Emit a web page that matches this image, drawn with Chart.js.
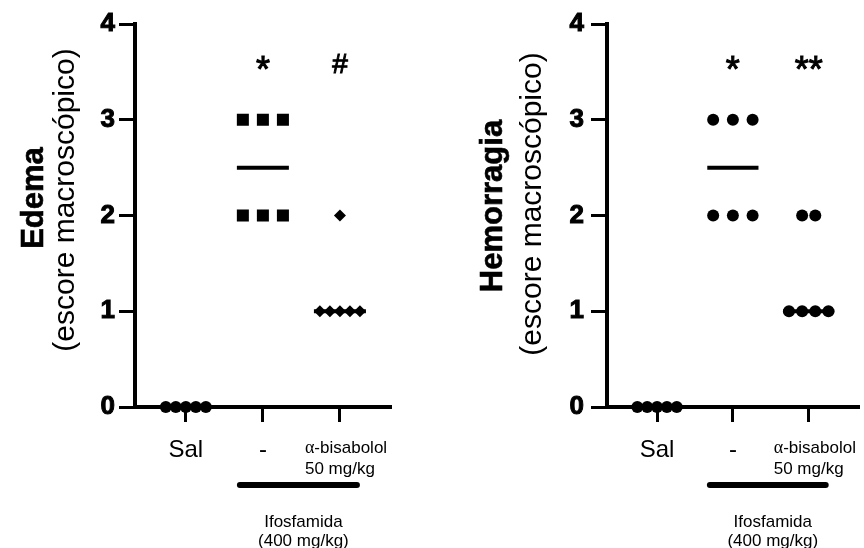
<!DOCTYPE html>
<html><head><meta charset="utf-8">
<script src="https://cdn.jsdelivr.net/npm/chart.js@4"></script>
<style>
html,body{margin:0;padding:0;background:#fff;width:864px;height:548px;overflow:hidden}
canvas{position:absolute;top:0}
#c1{left:0}#c2{left:432px}
</style></head>
<body>
<canvas id="c1" width="432" height="548"></canvas>
<canvas id="c2" width="432" height="548"></canvas>
<script>
// ---------- data ----------
const categories = ['Sal', '-', ['α-bisabolol', '50 mg/kg']];
const yTicks = [0, 1, 2, 3, 4];
const treatment = ['Ifosfamida', '(400 mg/kg)'];
const treatedGroups = [1, 2];

const edemaSal = [0, 0, 0, 0, 0];
const edemaIfo = [3, 3, 3, 2, 2, 2];
const edemaBisa = [2, 1, 1, 1, 1, 1];
const edemaSig = ['', '*', '#'];

const hemoSal = [0, 0, 0, 0, 0];
const hemoIfo = [3, 3, 3, 2, 2, 2];
const hemoBisa = [2, 2, 1, 1, 1, 1];
const hemoSig = ['', '*', '**'];

// ---------- style constants ----------
const X_MIN = -0.66, X_MAX = 2.65;
const SWARM = 0.52;          // spread of a row (category units)
const MEDIAN_HALF = 0.3375;  // half width of median line (category units)
const SIG_Y = 3.59;
const SANS = 'Liberation Sans';
const SERIF = 'Liberation Serif';

function swarm(values, gi) {
  const counts = {};
  values.forEach(v => counts[v] = (counts[v] || 0) + 1);
  const maxN = Math.max(...Object.values(counts));
  const step = maxN > 1 ? SWARM / (maxN - 1) : 0;
  const seen = {};
  return values.map(v => {
    const k = counts[v];
    const j = seen[v] = (seen[v] === undefined ? 0 : seen[v] + 1);
    return {x: gi + (j - (k - 1) / 2) * step, y: v};
  });
}
function median(a) {
  const s = [...a].sort((p, q) => p - q), n = s.length;
  return n % 2 ? s[(n - 1) / 2] : (s[n / 2 - 1] + s[n / 2]) / 2;
}
function drawMixed(ctx, text, x, y, size) {
  let cx = x;
  for (const ch of text) {
    ctx.font = (/[α-ω]/.test(ch) ? size + 1 + 'px ' + SERIF : size + 'px ' + SANS);
    ctx.fillText(ch, cx, y);
    cx += ctx.measureText(ch).width;
  }
}
function vtext(ctx, text, font, baseX, cy, stroke) {
  ctx.save();
  ctx.translate(baseX, cy);
  ctx.rotate(-Math.PI / 2);
  ctx.font = font;
  ctx.textAlign = 'center';
  ctx.textBaseline = 'alphabetic';
  ctx.fillText(text, 0, 0);
  if (stroke) { ctx.lineWidth = stroke; ctx.strokeText(text, 0, 0); }
  ctx.restore();
}

function makeDecor(cfg) {
  return {
    id: 'decor',
    beforeDatasetsDraw(chart) {
      const {ctx, scales: {x, y}} = chart;
      const unit = x.getPixelForValue(1) - x.getPixelForValue(0);
      ctx.save();
      ctx.strokeStyle = '#000';
      ctx.lineWidth = 4;
      cfg.groups.forEach((vals, i) => {
        const cx = x.getPixelForValue(i);
        const py = y.getPixelForValue(median(vals));
        ctx.beginPath();
        ctx.moveTo(cx - MEDIAN_HALF * unit, py);
        ctx.lineTo(cx + MEDIAN_HALF * unit, py);
        ctx.stroke();
      });
      ctx.restore();
    },
    afterDraw(chart) {
      const {ctx, scales: {x, y}, chartArea} = chart;
      ctx.save();
      ctx.fillStyle = '#000';
      ctx.strokeStyle = '#000';
      // significance marks
      cfg.sig.forEach((t, i) => {
        if (!t) return;
        ctx.font = (t.includes('*') ? 36 : 28) + 'px ' + SANS;
        ctx.textAlign = 'center';
        ctx.textBaseline = 'alphabetic';
        const m = ctx.measureText(t);
        const cy = y.getPixelForValue(SIG_Y);
        const base = cy + (m.actualBoundingBoxAscent - m.actualBoundingBoxDescent) / 2;
        ctx.fillText(t, x.getPixelForValue(i), base);
        ctx.lineWidth = 1;
        ctx.strokeText(t, x.getPixelForValue(i), base);
      });
      // category labels
      categories.forEach((c, i) => {
        const cx = x.getPixelForValue(i);
        ctx.textBaseline = 'alphabetic';
        if (Array.isArray(c)) {
          ctx.textAlign = 'left';
          c.forEach((line, k) => drawMixed(ctx, line, cx - 35, chartArea.bottom + 46 + k * 21, 17));
        } else {
          ctx.textAlign = 'center';
          ctx.font = '24px ' + SANS;
          ctx.fillText(c, cx, chartArea.bottom + 50);
        }
      });
      // treatment bar
      const x1 = x.getPixelForValue(treatedGroups[0]);
      const x2 = x.getPixelForValue(treatedGroups[1]);
      ctx.lineWidth = 6;
      ctx.lineCap = 'round';
      ctx.beginPath();
      ctx.moveTo(x1 - 23, chartArea.bottom + 78);
      ctx.lineTo(x2 + 17, chartArea.bottom + 78);
      ctx.stroke();
      ctx.lineCap = 'butt';
      ctx.font = '17px ' + SANS;
      ctx.textAlign = 'center';
      treatment.forEach((t, k) => ctx.fillText(t, (x1 + x2) / 2 + 2, chartArea.bottom + 120 + k * 19));
      // y title
      vtext(ctx, cfg.title[0], cfg.titleFont, chartArea.left + cfg.titleX[0], cfg.titleY[0], 0.6);
      vtext(ctx, cfg.title[1], '30px ' + SANS, chartArea.left + cfg.titleX[1], cfg.titleY[1], 0);
      ctx.restore();
    }
  };
}

function ds(values, gi, style, r) {
  return {
    data: swarm(values, gi),
    pointStyle: style,
    pointRadius: r, pointHoverRadius: r,
    pointBackgroundColor: '#000', pointBorderColor: '#000', pointBorderWidth: 0,
    showLine: false, clip: false
  };
}

function makeChart(id, datasets, cfg) {
  const axisGrid = {drawOnChartArea: false, drawTicks: true, tickWidth: 3, lineWidth: 3, color: '#000', tickColor: '#000'};
  return new Chart(document.getElementById(id), {
    type: 'scatter',
    data: {datasets},
    options: {
      responsive: false, animation: false, devicePixelRatio: 1, events: [],
      layout: {padding: {left: 0, right: cfg.padR, top: 24, bottom: 0}},
      plugins: {legend: {display: false}, tooltip: {enabled: false}},
      scales: {
        x: {
          type: 'linear', min: X_MIN, max: X_MAX,
          afterBuildTicks: s => { s.ticks = categories.map((c, i) => ({value: i})); },
          afterFit: s => { s.height = 141; },
          ticks: {display: false},
          grid: Object.assign({}, axisGrid, {tickLength: 15}),
          border: {display: true, width: 4, color: '#000'}
        },
        y: {
          type: 'linear', min: yTicks[0], max: yTicks[yTicks.length - 1],
          afterBuildTicks: s => { s.ticks = yTicks.map(v => ({value: v})); },
          afterFit: s => { s.width = cfg.yW; },
          ticks: {font: {family: SANS, size: 26, weight: 'bold'}, color: '#000', padding: cfg.tickPad,
                  textStrokeColor: '#000', textStrokeWidth: 1},
          grid: Object.assign({}, axisGrid, {tickLength: 16}),
          border: {display: true, width: 4, color: '#000'}
        }
      }
    },
    plugins: [makeDecor(cfg)]
  });
}

makeChart('c1', [
  ds(edemaSal, 0, 'circle', 6),
  ds(edemaIfo, 1, 'rect', 8.5),
  ds(edemaBisa, 2, 'rectRot', 6)
], {
  groups: [edemaSal, edemaIfo, edemaBisa], sig: edemaSig,
  title: ['Edema', '(escore macroscópico)'], titleFont: 'bold 31px ' + SANS,
  titleX: [-92, -61], titleY: [198, 200],
  yW: 135, tickPad: 4, padR: 42
});

makeChart('c2', [
  ds(hemoSal, 0, 'circle', 6),
  ds(hemoIfo, 1, 'circle', 6),
  ds(hemoBisa, 2, 'circle', 6)
], {
  groups: [hemoSal, hemoIfo, hemoBisa], sig: hemoSig,
  title: ['Hemorragia', '(escore macroscópico)'], titleFont: 'bold 31px ' + SANS,
  titleX: [-105, -66], titleY: [206, 204],
  yW: 175, tickPad: 7, padR: 2
});
</script>
</body></html>
